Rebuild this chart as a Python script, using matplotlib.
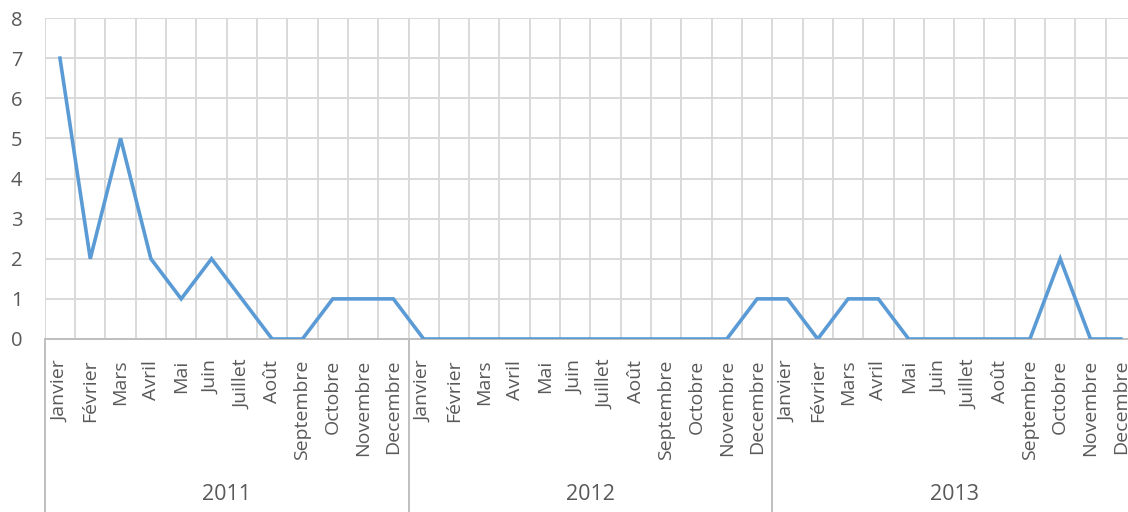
import matplotlib
matplotlib.use("Agg")
import matplotlib.pyplot as plt
import matplotlib.transforms as mtransforms

months = ["Janvier", "Février", "Mars", "Avril", "Mai", "Juin", "Juillet", "Août",
          "Septembre", "Octobre", "Novembre", "Decembre"]
years = ["2011", "2012", "2013"]
values_2011 = [7, 2, 5, 2, 1, 2, 1, 0, 0, 1, 1, 1]
values_2012 = [0, 0, 0, 0, 0, 0, 0, 0, 0, 0, 0, 1]
values_2013 = [1, 0, 1, 1, 0, 0, 0, 0, 0, 2, 0, 0]

values = values_2011 + values_2012 + values_2013
labels = months * len(years)
x = list(range(len(values)))

text_color = "#595959"
grid_color = "#d9d9d9"
line_color = "#5b9bd5"

plt.rcParams['font.family'] = ['Open Sans', 'DejaVu Sans']

fig = plt.figure(figsize=(11.28, 5.12), dpi=100)
left_px, right_px, top_px, zero_px = 44.8, 1136.0, 18.0, 339.0
W, H = 1128.0, 512.0
ax = fig.add_axes([left_px / W, (H - zero_px) / H, (right_px - left_px) / W, (zero_px - top_px) / H])

ax.plot(x, values, color=line_color, linewidth=2.6, solid_joinstyle='miter', zorder=3)

ax.set_xlim(-0.5, len(values) - 0.5)
ax.set_ylim(0, 8)
ax.set_yticks(range(0, 9))
ax.tick_params(axis='y', length=0, pad=16, labelsize=14.5, labelcolor=text_color)
ax.yaxis.grid(True, color=grid_color, linewidth=1.4)
for b in range(len(values) + 1):
    ax.axvline(b - 0.5, color=grid_color, linewidth=1.4, zorder=1)
ax.set_axisbelow(True)

for s in ['top', 'right', 'left']:
    ax.spines[s].set_visible(False)
ax.spines['bottom'].set_color("#bfbfbf")
ax.spines['bottom'].set_linewidth(1.4)

ax.set_xticks(x)
ax.set_xticklabels(labels, rotation=90, va='top', ha='center')
ax.tick_params(axis='x', length=0, pad=15, labelsize=14, labelcolor=text_color)

trans = mtransforms.blended_transform_factory(ax.transData, ax.transAxes)
ybottom = -(H - zero_px) / (zero_px - top_px)
for k in range(len(years) + 1):
    xb = k * 12 - 0.5
    ax.plot([xb, xb], [0, ybottom], transform=trans, color="#bfbfbf",
            linewidth=1.4, clip_on=False, zorder=1)

for k, yr in enumerate(years):
    xc = k * 12 + 5.5
    yaxes = -(495 - zero_px) / (zero_px - top_px)
    ax.text(xc, yaxes, yr, transform=trans, ha='center', va='center',
            fontsize=15.5, color=text_color)

fig.savefig("out.png", dpi=100)
